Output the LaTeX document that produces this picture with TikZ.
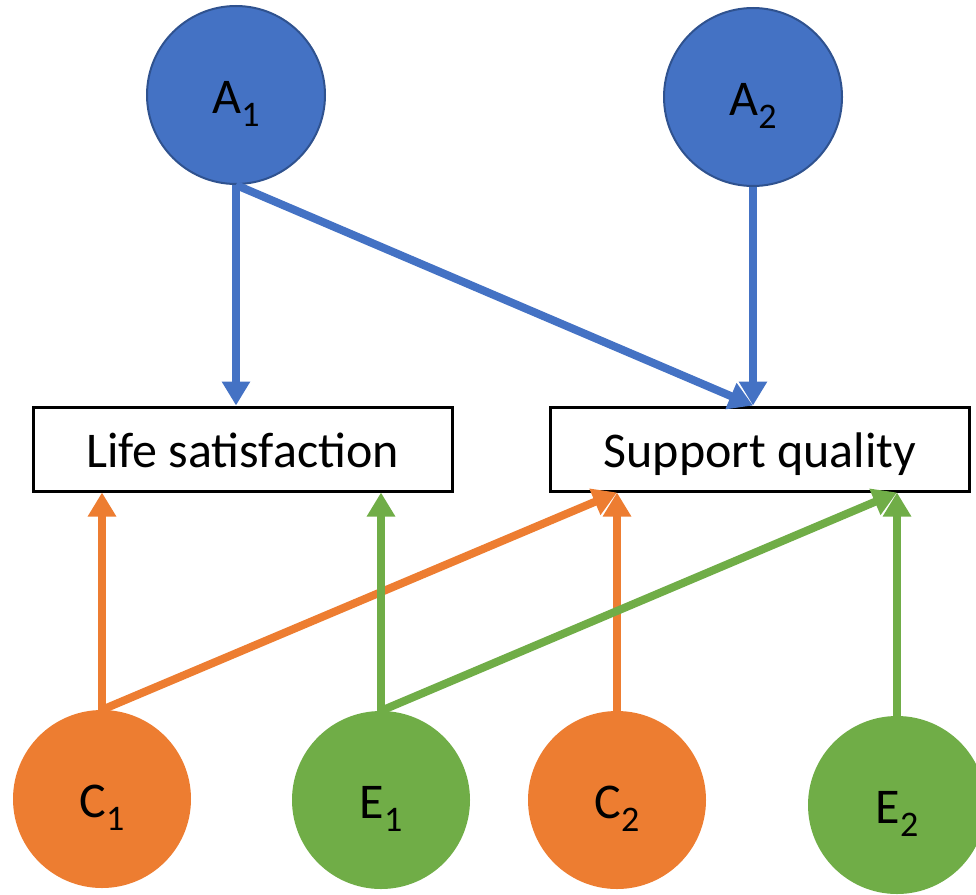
\documentclass[tikz,border=0pt]{standalone}
\usepackage{fontspec}
\setmainfont{Carlito}
\usetikzlibrary{arrows.meta}
\definecolor{cblue}{HTML}{4472C4}
\definecolor{cblueedge}{HTML}{2F528F}
\definecolor{corange}{HTML}{ED7D31}
\definecolor{cgreen}{HTML}{70AD47}
\newcommand{\varlab}[2]{#1\raisebox{-13pt}{\fontsize{36}{36}\selectfont #2}}
\begin{document}
\begin{tikzpicture}[x=1pt,y=-1pt,
  latent/.style={circle, minimum size=178pt, inner sep=0pt,
    font=\fontsize{50}{50}\selectfont, text height=36pt, text depth=0pt},
  latentA/.style={latent, fill=cblue, draw=cblueedge, line width=2pt},
  latentC/.style={latent, fill=corange},
  latentE/.style={latent, fill=cgreen},
  obsbox/.style={rectangle, draw=black, line width=3pt, fill=white,
    minimum width=419pt, minimum height=84pt, inner sep=0pt,
    font=\fontsize{50}{50}\selectfont, text height=36pt, text depth=0pt},
  conn/.style={line width=8pt, -{Triangle[width=27pt,length=24pt]}}
]
\clip (0,0) rectangle (976,894);
\node[latentA] (A1) at (236,95) {\varlab{A}{1}};
\node[latentA] (A2) at (753,97) {\varlab{A}{2}};
\node[obsbox] (LS) at (242.5,449) {Life satisfaction};
\node[obsbox] (SQ) at (760,449) {Support quality};
\node[latentC] (C1) at (102,799) {\varlab{C}{1}};
\node[latentE] (E1) at (381,800) {\varlab{E}{1}};
\node[latentC] (C2) at (617,800) {\varlab{C}{2}};
\node[latentE] (E2) at (897,805) {\varlab{E}{2}};

\draw[conn, cblue] (A1.south) -- (A1.south |- LS.north);
\draw[conn, cblue] (A1.south) -- (SQ.north -| A2.south);
\draw[conn, cblue] (A2.south) -- (A2.south |- SQ.north);

\draw[conn, corange] (C1.north) -- (C1.north |- LS.south);
\draw[conn, corange] (C1.north) -- (SQ.south -| C2.north);
\draw[conn, corange] (C2.north) -- (C2.north |- SQ.south);

\draw[conn, cgreen] (E1.north) -- (E1.north |- LS.south);
\draw[conn, cgreen] (E1.north) -- (SQ.south -| E2.north);
\draw[conn, cgreen] (E2.north) -- (E2.north |- SQ.south);
\end{tikzpicture}
\end{document}
